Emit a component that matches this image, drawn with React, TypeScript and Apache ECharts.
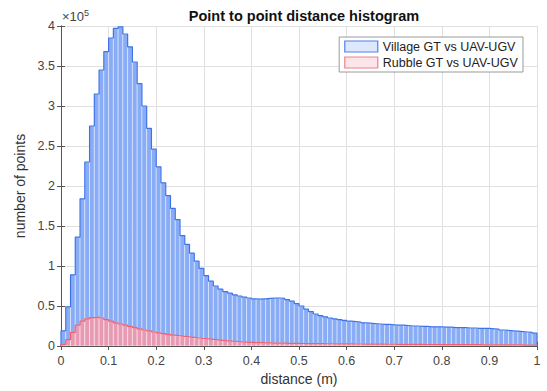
import React, { useEffect, useRef } from "react";
import * as echarts from "echarts";

// histogram bin width (m)
const binWidth = 0.01;
const xTicks = [0, 0.1, 0.2, 0.3, 0.4, 0.5, 0.6, 0.7, 0.8, 0.9, 1];
const yTicks = [0, 0.5, 1, 1.5, 2, 2.5, 3, 3.5, 4];

// counts per bin, in units of 10^5 points
const villageCounts = [
  0.19, 0.49, 0.89, 1.36, 1.84, 2.3, 2.75, 3.15, 3.45, 3.68,
  3.85, 3.97, 3.99, 3.9, 3.74, 3.55, 3.28, 3.0, 2.72, 2.46,
  2.24, 2.04, 1.88, 1.72, 1.58, 1.38, 1.27, 1.16, 1.06, 0.97,
  0.88, 0.81, 0.75, 0.71, 0.68, 0.66, 0.64, 0.625, 0.61, 0.6,
  0.59, 0.585, 0.59, 0.595, 0.6, 0.6, 0.595, 0.58, 0.56, 0.53,
  0.5, 0.46, 0.43, 0.4, 0.38, 0.365, 0.35, 0.34, 0.33, 0.32,
  0.31, 0.305, 0.3, 0.29, 0.285, 0.28, 0.275, 0.27, 0.27, 0.265,
  0.26, 0.26, 0.255, 0.25, 0.25, 0.245, 0.245, 0.24, 0.24, 0.24,
  0.235, 0.235, 0.23, 0.23, 0.23, 0.225, 0.225, 0.22, 0.22, 0.22,
  0.215, 0.21, 0.2, 0.195, 0.19, 0.185, 0.18, 0.175, 0.17, 0.16,
];
const rubbleCounts = [
  0.02, 0.08, 0.17, 0.26, 0.31, 0.34, 0.355, 0.36, 0.35, 0.33,
  0.31, 0.29, 0.275, 0.26, 0.245, 0.23, 0.215, 0.2, 0.19, 0.175,
  0.165, 0.155, 0.145, 0.135, 0.128, 0.12, 0.113, 0.107, 0.1, 0.094,
  0.088, 0.082, 0.076, 0.07, 0.065, 0.06, 0.056, 0.052, 0.049, 0.046,
  0.043, 0.041, 0.039, 0.038, 0.037, 0.036, 0.035, 0.034, 0.033, 0.032,
  0.031, 0.03, 0.03, 0.029, 0.029, 0.028, 0.028, 0.027, 0.027, 0.026,
  0.026, 0.025, 0.025, 0.024, 0.024, 0.023, 0.023, 0.023, 0.022, 0.022,
  0.021, 0.021, 0.021, 0.02, 0.02, 0.02, 0.019, 0.019, 0.019, 0.018,
  0.018, 0.018, 0.017, 0.017, 0.017, 0.016, 0.016, 0.016, 0.015, 0.015,
  0.015, 0.014, 0.014, 0.014, 0.013, 0.013, 0.013, 0.012, 0.012, 0.012,
];
const seriesNames = ["Village GT vs UAV-UGV", "Rubble GT vs UAV-UGV"];

const FONT = "Liberation Sans, Arial, Helvetica, sans-serif";

function binData(counts: number[]) {
  return counts.map((v, i) => [i * binWidth, (i + 1) * binWidth, v]);
}
function stepData(counts: number[]) {
  const pts: number[][] = [[0, 0]];
  counts.forEach((v, i) => pts.push([i * binWidth, v]));
  pts.push([counts.length * binWidth, counts[counts.length - 1]]);
  pts.push([counts.length * binWidth, 0]);
  return pts;
}

function histSeries(name: string, counts: number[], fill: string, z: number) {
  return {
    name,
    type: "custom",
    clip: true,
    z,
    encode: { x: [0, 1], y: 2 },
    data: binData(counts),
    itemStyle: { color: fill },
    renderItem: (params: any, api: any) => {
      const p0 = api.coord([api.value(0), api.value(2)]);
      const p1 = api.coord([api.value(1), 0]);
      return {
        type: "rect",
        shape: { x: p0[0], y: p0[1], width: p1[0] - p0[0], height: p1[1] - p0[1] },
        style: { fill, stroke: "rgba(255,255,255,0.6)", lineWidth: 0.7 },
      };
    },
  };
}

function outlineSeries(name: string, counts: number[], color: string, z: number) {
  return {
    name,
    type: "line",
    step: "end",
    z,
    symbol: "none",
    clip: true,
    data: stepData(counts),
    lineStyle: { color, width: 1.2 },
  };
}

export default function App() {
  const ref = useRef<HTMLDivElement>(null);
  useEffect(() => {
    const chart = echarts.init(ref.current!, undefined, { renderer: "svg" });
    const axisCommon = {
      type: "value",
      axisLine: { show: true, lineStyle: { color: "#555", width: 1 } },
      axisTick: { show: true, inside: true, length: 4, lineStyle: { color: "#555" } },
    };
    chart.setOption({
      animation: false,
      backgroundColor: "#fff",
      title: {
        text: "Point to point distance histogram",
        left: 299,
        textAlign: "center",
        top: 3,
        textStyle: { fontFamily: FONT, fontSize: 14.5, fontWeight: "bold", color: "#111" },
      },
      grid: { left: 61, right: 10, top: 26, bottom: 45 },
      legend: {
        orient: "vertical",
        right: 24,
        top: 37,
        itemWidth: 33,
        itemHeight: 11,
        itemGap: 3,
        padding: [3, 5, 3, 5],
        backgroundColor: "#fff",
        borderColor: "#9a9a9a",
        borderWidth: 1,
        borderRadius: 0,
        icon: "rect",
        textStyle: { fontFamily: FONT, fontSize: 12.5, color: "#222" },
        data: [
          {
            name: seriesNames[0],
            itemStyle: { color: "#dde8fd", borderColor: "#4f82ee", borderWidth: 1.2 },
          },
          {
            name: seriesNames[1],
            itemStyle: { color: "#fde6ea", borderColor: "#f0808f", borderWidth: 1.2 },
          },
        ],
      },
      graphic: [
        {
          type: "text",
          left: 62,
          top: 8,
          style: {
            text: "{a|×10}{b|5}",
            rich: {
              a: { fontFamily: FONT, fontSize: 13, fill: "#444" },
              b: { fontFamily: FONT, fontSize: 9, fill: "#444", verticalAlign: "top", padding: [0, 0, 7, 0] },
            },
          },
        },
      ],
      xAxis: [
        {
          ...axisCommon,
          min: xTicks[0],
          max: xTicks[xTicks.length - 1],
          interval: 0.1,
          name: "distance (m)",
          nameLocation: "middle",
          nameGap: 25,
          nameTextStyle: { fontFamily: FONT, fontSize: 14, color: "#333" },
          axisLabel: { fontFamily: FONT, fontSize: 12.5, color: "#444", margin: 8 },
          splitLine: { show: true, lineStyle: { color: "#e0e0e0", width: 1 } },
        },
        {
          ...axisCommon,
          position: "top",
          min: xTicks[0],
          max: xTicks[xTicks.length - 1],
          interval: 0.1,
          axisLabel: { show: false },
          splitLine: { show: false },
        },
      ],
      yAxis: [
        {
          ...axisCommon,
          min: yTicks[0],
          max: yTicks[yTicks.length - 1],
          interval: 0.5,
          name: "number of points",
          nameLocation: "middle",
          nameGap: 29,
          nameTextStyle: { fontFamily: FONT, fontSize: 14, color: "#333" },
          axisLabel: { fontFamily: FONT, fontSize: 12.5, color: "#444", margin: 6 },
          splitLine: { show: true, lineStyle: { color: "#e0e0e0", width: 1 } },
        },
        {
          ...axisCommon,
          position: "right",
          min: yTicks[0],
          max: yTicks[yTicks.length - 1],
          interval: 0.5,
          axisLabel: { show: false },
          splitLine: { show: false },
        },
      ],
      series: [
        histSeries(seriesNames[0], villageCounts, "#89acf6", 2),
        outlineSeries("village-outline", villageCounts, "#3d72e8", 3),
        histSeries(seriesNames[1], rubbleCounts, "rgba(255,150,162,0.8)", 4),
        outlineSeries("rubble-outline", rubbleCounts, "#f2606f", 5),
      ],
    });
    return () => chart.dispose();
  }, []);
  return <div ref={ref} style={{ width: 547, height: 391, position: "absolute", left: 0, top: 0 }} />;
}
